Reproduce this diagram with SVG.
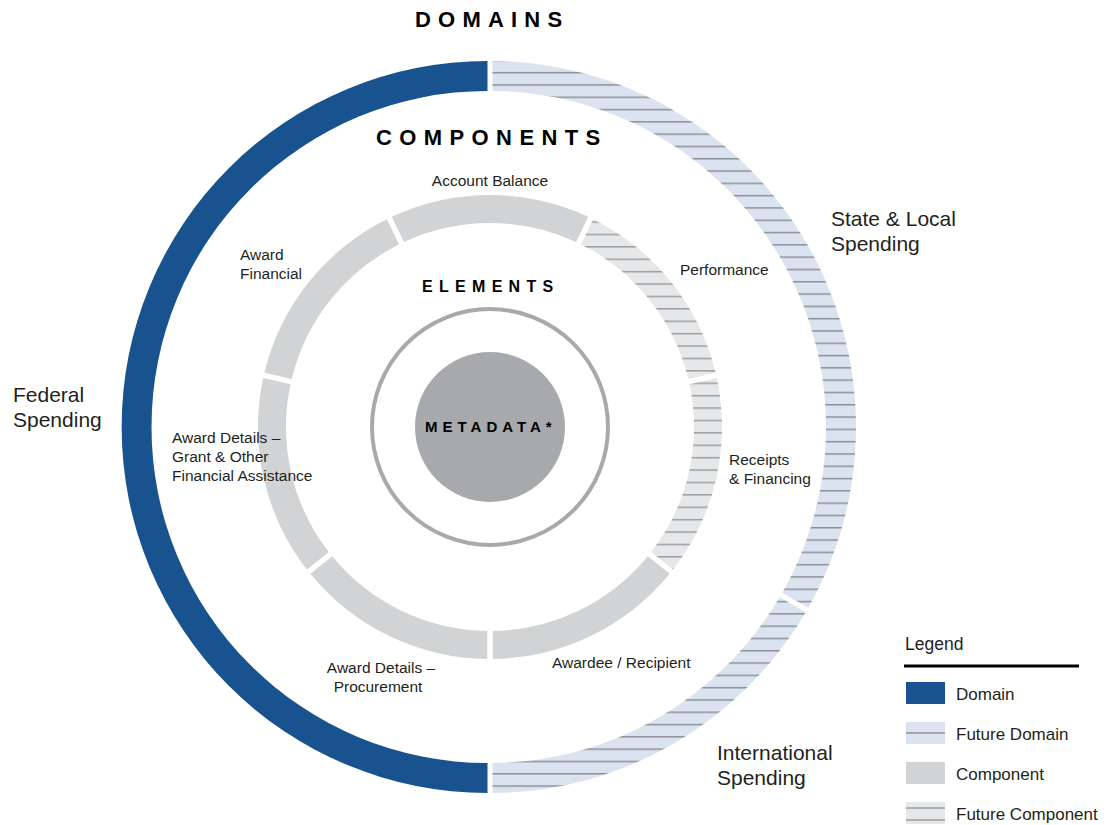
<svg xmlns="http://www.w3.org/2000/svg" width="1115" height="825" viewBox="0 0 1115 825">
<defs>
<pattern id="hatchDomain" patternUnits="userSpaceOnUse" x="0" y="0" width="40" height="12.3">
<rect x="0" y="0" width="40" height="12.3" fill="#dbe3f0"/>
<rect x="0" y="10.4" width="40" height="1.5" fill="#8e9196"/>
</pattern>
<pattern id="hatchComp" patternUnits="userSpaceOnUse" x="0" y="0" width="40" height="12.4">
<rect x="0" y="0" width="40" height="12.4" fill="#e6e7e8"/>
<rect x="0" y="10.5" width="40" height="1.5" fill="#9c9ea1"/>
</pattern>
<style>
.domain{fill:#18538f}
.fdomain{fill:url(#hatchDomain)}
.comp{fill:#d1d3d4}
.fcomp{fill:url(#hatchComp)}
.lbl{font-family:"Liberation Sans",Arial,sans-serif;fill:#231f20}
.c{font-size:15.5px}
.d{font-size:21px}
.lg{font-size:17px}
.h{font-family:"Liberation Sans",Arial,sans-serif;font-weight:bold;fill:#000}
</style>
</defs>

<g id="headings">
<text class="h" x="415" y="27" font-size="22" letter-spacing="7.2">DOMAINS</text>
<text class="h" x="376" y="145" font-size="22" letter-spacing="7.4">COMPONENTS</text>
<text class="h" x="422" y="292" font-size="16" letter-spacing="6.3">ELEMENTS</text>
</g>

<g id="domain-federal">
<path class="domain" d="M 487.5 61 A 366 366 0 0 0 487.5 793 L 487.5 763 A 336 336 0 0 1 487.5 91 Z"/>
<text class="lbl d" x="13" y="402">Federal</text>
<text class="lbl d" x="13" y="427">Spending</text>
</g>
<g id="domain-state-local">
<path class="fdomain" d="M 492.5 61 A 366 366 0 0 1 808.21 607.83 L 782.23 592.83 A 336 336 0 0 0 492.5 91 Z"/>
<text class="lbl d" x="831" y="226">State &amp; Local</text>
<text class="lbl d" x="831" y="251">Spending</text>
</g>
<g id="domain-international">
<path class="fdomain" d="M 805.71 612.16 A 366 366 0 0 1 492.5 793 L 492.5 763 A 336 336 0 0 0 779.73 597.16 Z"/>
<text class="lbl d" x="717" y="760">International</text>
<text class="lbl d" x="717" y="785">Spending</text>
</g>

<g id="comp-procurement">
<path class="comp" d="M 487.25 659 A 232 232 0 0 1 310.33 573.80 L 332.22 556.34 A 204 204 0 0 0 487.25 631 Z"/>
<text class="lbl c" x="381" y="673" text-anchor="middle">Award Details –</text>
<text class="lbl c" x="378" y="692" text-anchor="middle">Procurement</text>
</g>
<g id="comp-grant">
<path class="comp" d="M 306.90 569.50 A 232 232 0 0 1 263.21 378.06 L 290.50 384.29 A 204 204 0 0 0 328.79 552.04 Z"/>
<text class="lbl c" x="172" y="443">Award Details –</text>
<text class="lbl c" x="172" y="462">Grant &amp; Other</text>
<text class="lbl c" x="172" y="481">Financial Assistance</text>
</g>
<g id="comp-award-financial">
<path class="comp" d="M 264.43 372.69 A 232 232 0 0 1 386.86 219.17 L 399.01 244.40 A 204 204 0 0 0 291.73 378.93 Z"/>
<text class="lbl c" x="240" y="260">Award</text>
<text class="lbl c" x="240" y="279">Financial</text>
</g>
<g id="comp-account-balance">
<path class="comp" d="M 391.82 216.78 A 232 232 0 0 1 588.18 216.78 L 576.03 242.01 A 204 204 0 0 0 403.97 242.01 Z"/>
<text class="lbl c" x="490" y="186" text-anchor="middle">Account Balance</text>
</g>
<g id="comp-performance">
<path class="fcomp" d="M 593.14 219.17 A 232 232 0 0 1 715.57 372.69 L 688.27 378.93 A 204 204 0 0 0 580.99 244.40 Z"/>
<text class="lbl c" x="680" y="275">Performance</text>
</g>
<g id="comp-receipts">
<path class="fcomp" d="M 716.80 378.06 A 232 232 0 0 1 673.10 569.50 L 651.21 552.04 A 204 204 0 0 0 689.50 384.29 Z"/>
<text class="lbl c" x="729" y="465">Receipts</text>
<text class="lbl c" x="729" y="484">&amp; Financing</text>
</g>
<g id="comp-awardee">
<path class="comp" d="M 669.67 573.80 A 232 232 0 0 1 492.75 659 L 492.75 631 A 204 204 0 0 0 647.78 556.34 Z"/>
<text class="lbl c" x="552" y="668">Awardee / Recipient</text>
</g>

<g id="elements">
<circle cx="490" cy="427" r="118" fill="none" stroke="#a7a9ac" stroke-width="4"/>
</g>
<g id="metadata">
<circle cx="490" cy="427" r="75" fill="#a7a9ac"/>
<text class="h" x="425" y="432" font-size="15" letter-spacing="5">METADATA*</text>
</g>

<g id="connectors"></g>

<g id="legend">
<text class="lbl" x="905" y="650" font-size="17.5">Legend</text>
<line x1="904" y1="666" x2="1079" y2="666" stroke="#000" stroke-width="3"/>
<rect x="906" y="682" width="39" height="22" fill="#18538f"/>
<text class="lbl lg" x="956" y="700">Domain</text>
<rect x="906" y="722" width="39" height="22" fill="#dbe3f0"/>
<line x1="906" y1="733" x2="945" y2="733" stroke="#8e9196" stroke-width="1.4"/>
<text class="lbl lg" x="956" y="740">Future Domain</text>
<rect x="906" y="762" width="39" height="22" fill="#d1d3d4"/>
<text class="lbl lg" x="956" y="780">Component</text>
<rect x="906" y="802" width="39" height="22" fill="#e6e7e8"/>
<line x1="906" y1="808" x2="945" y2="808" stroke="#9c9ea1" stroke-width="1.4"/>
<line x1="906" y1="820" x2="945" y2="820" stroke="#9c9ea1" stroke-width="1.4"/>
<text class="lbl lg" x="956" y="820">Future Component</text>
</g>
</svg>
